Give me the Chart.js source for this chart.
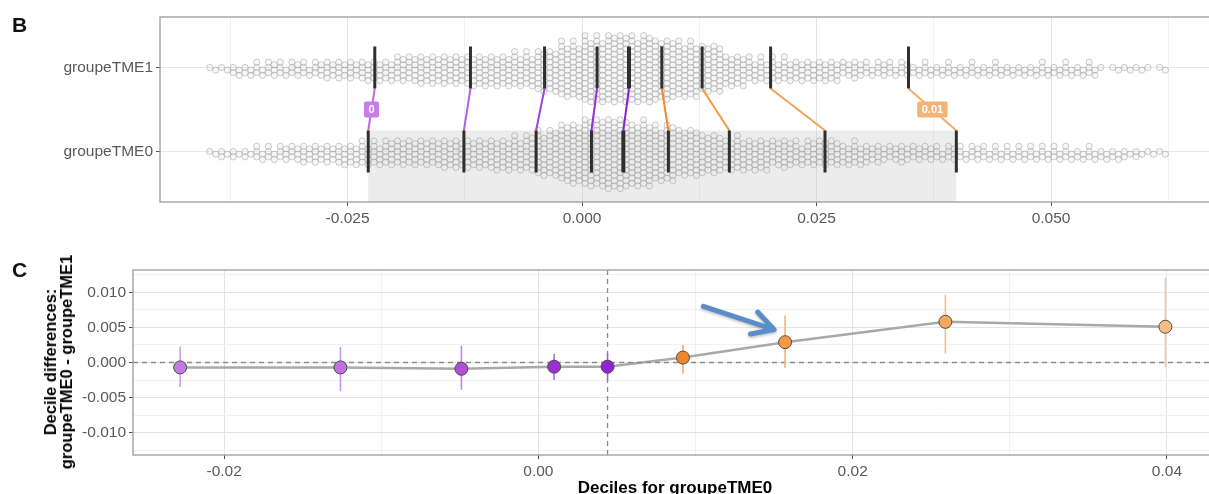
<!DOCTYPE html>
<html>
<head>
<meta charset="utf-8">
<script src="https://cdn.jsdelivr.net/npm/chart.js@4.4.1/dist/chart.umd.min.js"></script>
<style>
  html, body { margin: 0; padding: 0; background: #fff; width: 1209px; height: 494px; overflow: hidden; }
  body { position: relative; font-family: "Liberation Sans", Arial, sans-serif; }
  canvas { position: absolute; left: 0; }
  #chartB { top: 0; }
  #chartC { top: 240px; }
  .tag { position: absolute; font-weight: bold; font-size: 21px; line-height: 21px; color: #111; }
  .title { position: absolute; font-weight: bold; font-size: 16.5px; line-height: 16px; color: #000; white-space: nowrap; text-align: center; }
</style>
</head>
<body>
<canvas id="chartB" width="1220" height="240"></canvas>
<canvas id="chartC" width="1220" height="254"></canvas>
<div class="tag" style="left:12px; top:14px;">B</div>
<div class="tag" style="left:12px; top:259px;">C</div>
<div class="title" style="left:58px; top:362px; transform: translate(-50%, -50%) rotate(-90deg);">Decile differences:<br>groupeTME0 - groupeTME1</div>
<div class="title" style="left:675px; top:479px; transform: translateX(-50%); font-size:17px; line-height:17px;">Deciles for groupeTME0</div>

<script>
/* ---- data ---- */
const groups = ['groupeTME1', 'groupeTME0'];          // top row, bottom row

// deciles 1..9 of each group
const decTME0 = [-0.0228, -0.0126, -0.0049, 0.0010, 0.0044, 0.0092, 0.0157, 0.0259, 0.0399];
const decTME1 = [-0.0221, -0.0119, -0.0040, 0.0016, 0.0050, 0.0085, 0.0128, 0.0201, 0.0348];

// decile differences (groupeTME0 - groupeTME1) with their intervals
const diffs  = [-0.0007, -0.0007, -0.0009, -0.0006, -0.0006, 0.0007, 0.0029, 0.0058, 0.0051];
const ciLow  = [-0.0035, -0.0041, -0.0039, -0.0025, -0.0025, -0.0016, -0.0008, 0.0013, -0.0007];
const ciHigh = [ 0.0023,  0.0022,  0.0024,  0.0012,  0.0013,  0.0025,  0.0067, 0.0097, 0.0121];

// observations per bin of 0.0025, starting at -0.040 (estimated from the swarm)
const binStart = -0.040;
const binWidth = 0.0025;
const countsTME1 = [4, 8, 11, 11, 11, 14, 15, 16, 20, 22, 22, 24, 24, 26, 32, 42, 50, 52, 51, 46,
                    42, 36, 24, 18, 18, 16, 16, 13, 11, 11, 9, 9, 9, 9, 8, 9, 9, 9, 3, 4, 3];
const countsTME0 = [5, 6, 10, 12, 14, 15, 17, 19, 20, 20, 22, 22, 24, 27, 35, 45, 52, 54, 49, 43,
                    36, 30, 25, 24, 21, 19, 20, 17, 14, 13, 12, 11, 11, 10, 10, 10, 10, 9, 8, 6, 4];

// ticks
const bXMajor = [-0.025, 0, 0.025, 0.05];
const bXMinor = [-0.0375, -0.0125, 0.0125, 0.0375, 0.0625];
const cXMajor = [-0.02, 0, 0.02, 0.04];
const cXMinor = [-0.01, 0.01, 0.03];
const cYMajor = [-0.01, -0.005, 0, 0.005, 0.01];
const cYMinor = [-0.0125, -0.0075, -0.0025, 0.0025, 0.0075, 0.0125];

// labelled deciles in panel B, and the arrow annotation in panel C
const labelDeciles = [0, 8];
const arrowFrom = [0.0105, 0.0080];
const arrowTo   = [0.0150, 0.0047];

/* ---- axis limits & styles ---- */
const bXMin = -0.045, bXMax = 0.0675;
const cXMin = -0.0258, cXMax = 0.0429;
const cYMin = -0.0132, cYMax = 0.0132;

const FONT = '"Liberation Sans", Arial, sans-serif';
const TICK_COLOR = '#595959';
const pointFill = ['#c67be2', '#c070e0', '#b050da', '#9a2fd2', '#9025cf', '#f0862a', '#f39a45', '#f5a85e', '#f8bd86'];
const barColor  = ['#d39aee', '#cf92ee', '#c484ea', '#b468e2', '#ac5cde', '#f4a868', '#f5b27a', '#f7bd8c', '#f8c8a0'];
const linkColor = ['#bb6ce6', '#b062e4', '#a044e0', '#922ddc', '#8a1fd8', '#f08a2a', '#f2983f', '#f4a255', '#f5ab66'];
const boxColor  = { 0: '#c77ee8', 8: '#f5b377' };

Chart.defaults.font.family = FONT;

const isIn = (list, v) => list.some(m => Math.abs(m - v) < 1e-9);

/* ---- beeswarm layout from the bin counts ---- */
const SWARM_COLS = 4;
const ROW_GAP = 0.063;   // in category units
function swarm(counts, center) {
  const pts = [];
  const colW = binWidth / SWARM_COLS;
  const rank = [1, 3, 0, 2];
  counts.forEach((n, b) => {
    const rem = n % SWARM_COLS;
    for (let c = 0; c < SWARM_COLS; c++) {
      const k = Math.floor(n / SWARM_COLS) + (rank[c] < rem ? 1 : 0);
      const x = binStart + b * binWidth + (c + 0.5) * colW;
      const shift = c % 2 ? ROW_GAP / 2 : 0;
      for (let j = 0; j < k; j++) {
        const step = Math.ceil(j / 2) * (j % 2 ? 1 : -1);
        pts.push({ x, y: center + step * ROW_GAP + shift });
      }
    }
  });
  return pts;
}

/* ---- shared plugins ---- */
const frame = {
  id: 'frame',
  afterDraw(chart) {
    const { ctx, chartArea: a } = chart;
    ctx.save();
    ctx.strokeStyle = '#a3a3a3';
    ctx.lineWidth = 1.4;
    ctx.strokeRect(a.left, a.top, a.right - a.left, a.bottom - a.top);
    ctx.restore();
  }
};

function tickScale(min, max, major, minor, fmt, size) {
  return {
    type: 'linear', min, max,
    afterBuildTicks: s => { s.ticks = [...minor, ...major].sort((p, q) => p - q).map(v => ({ value: v })); },
    afterFit: size,
    ticks: {
      autoSkip: false, maxRotation: 0, padding: 3, color: TICK_COLOR,
      font: { size: 15.5 },
      callback: v => isIn(major, v) ? fmt(v) : ''
    },
    grid: {
      color: c => (c.tick && isIn(major, c.tick.value)) ? '#e4e4e4' : '#f1f1f1',
      tickColor: c => (c.tick && isIn(major, c.tick.value)) ? '#4d4d4d' : 'rgba(0,0,0,0)',
      tickLength: 4,
      lineWidth: 1
    },
    border: { display: false }
  };
}

const baseOptions = {
  responsive: false,
  animation: false,
  devicePixelRatio: 1,
  events: [],
  plugins: { legend: { display: false }, tooltip: { enabled: false } }
};

/* ---- Panel B ---- */
const shade = {
  id: 'shade',
  beforeDatasetsDraw(chart) {
    const { ctx, scales: { x, y } } = chart;
    const x0 = x.getPixelForValue(decTME0[0]);
    const x1 = x.getPixelForValue(decTME0[8]);
    const y0 = y.getPixelForValue(1.75);
    const y1 = y.getPixelForValue(y.max);
    ctx.save();
    ctx.fillStyle = 'rgba(195,195,195,0.32)';
    ctx.fillRect(x0, y0, x1 - x0, y1 - y0);
    ctx.restore();
  }
};

const labelBoxes = {
  id: 'labelBoxes',
  afterDatasetsDraw(chart) {
    const { ctx, scales: { x, y } } = chart;
    labelDeciles.forEach(i => {
      const px = (x.getPixelForValue(decTME1[i]) + x.getPixelForValue(decTME0[i])) / 2;
      const py = (y.getPixelForValue(1.25) + y.getPixelForValue(1.75)) / 2;
      const txt = String(Math.round(diffs[i] * 100) / 100);
      ctx.save();
      ctx.font = `bold 11px ${FONT}`;
      const w = ctx.measureText(txt).width + 9, h = 16;
      ctx.fillStyle = boxColor[i];
      ctx.beginPath();
      ctx.roundRect(px - w / 2, py - h / 2, w, h, 2);
      ctx.fill();
      ctx.fillStyle = '#fff';
      ctx.textAlign = 'center';
      ctx.textBaseline = 'middle';
      ctx.fillText(txt, px, py + 0.5);
      ctx.restore();
    });
  }
};

const dotStyle = {
  type: 'scatter', pointRadius: 3.1, pointBorderWidth: 0.8,
  borderColor: 'rgba(120,120,120,0.45)', backgroundColor: 'rgba(230,230,230,0.3)', order: 10
};

const bDatasets = [
  { label: groups[0], data: swarm(countsTME1, 1), ...dotStyle },
  { label: groups[1], data: swarm(countsTME0, 2), ...dotStyle }
];
decTME1.forEach((d, i) => {
  bDatasets.push({
    data: [{ x: d, y: 1.25 }, { x: decTME0[i], y: 1.75 }],
    showLine: true, pointRadius: 0, borderColor: linkColor[i], borderWidth: 2, order: 5
  });
});
[decTME1, decTME0].forEach((dec, g) => {
  dec.forEach((d, i) => {
    bDatasets.push({
      data: [{ x: d, y: g + 0.75 }, { x: d, y: g + 1.25 }],
      showLine: true, pointRadius: 0, borderColor: '#2f2f2f',
      borderWidth: i === 4 ? 4 : 3, order: 1
    });
  });
});

new Chart(document.getElementById('chartB'), {
  type: 'scatter',
  data: { datasets: bDatasets },
  options: {
    ...baseOptions,
    layout: { padding: { top: 17, right: 3, left: 0, bottom: 0 } },
    scales: {
      x: tickScale(bXMin, bXMax, bXMajor, bXMinor, v => v.toFixed(3), s => { s.height = 38; }),
      y: {
        type: 'linear', min: 0.4, max: 2.6, reverse: true,
        afterBuildTicks: s => { s.ticks = groups.map((_, i) => ({ value: i + 1 })); },
        afterFit: s => { s.width = 160; },
        ticks: { color: TICK_COLOR, font: { size: 15.5 }, padding: 3, callback: v => groups[v - 1] },
        grid: { color: '#e8e8e8', tickColor: '#4d4d4d', tickLength: 4 },
        border: { display: false }
      }
    }
  },
  plugins: [shade, labelBoxes, frame]
});

/* ---- Panel C ---- */
const arrow = {
  id: 'arrow',
  afterDraw(chart) {
    const { ctx, scales: { x, y } } = chart;
    const x1 = x.getPixelForValue(arrowFrom[0]), y1 = y.getPixelForValue(arrowFrom[1]);
    const x2 = x.getPixelForValue(arrowTo[0]),   y2 = y.getPixelForValue(arrowTo[1]);
    const a = Math.atan2(y2 - y1, x2 - x1);
    const len = 24, spread = 0.5;
    ctx.save();
    ctx.strokeStyle = '#5b8ec9';
    ctx.lineWidth = 5;
    ctx.lineCap = 'round';
    ctx.lineJoin = 'round';
    ctx.shadowColor = 'rgba(0,0,0,0.25)';
    ctx.shadowBlur = 3;
    ctx.shadowOffsetY = 1.5;
    ctx.beginPath();
    ctx.moveTo(x1, y1);
    ctx.lineTo(x2, y2);
    ctx.moveTo(x2 - len * Math.cos(a - spread), y2 - len * Math.sin(a - spread));
    ctx.lineTo(x2, y2);
    ctx.lineTo(x2 - len * Math.cos(a + spread), y2 - len * Math.sin(a + spread));
    ctx.stroke();
    ctx.restore();
  }
};

const diffPoints = decTME0.map((d, i) => ({ x: d, y: diffs[i] }));
const dashed = { showLine: true, pointRadius: 0, borderColor: '#8a8a8a', borderWidth: 1.3, borderDash: [5, 4], order: 2 };

const cDatasets = [
  { data: diffPoints, pointRadius: 6.5, pointBorderWidth: 1, borderColor: '#4d4d4d',
    backgroundColor: pointFill, pointBackgroundColor: pointFill, order: 0 },
  { data: diffPoints, showLine: true, pointRadius: 0, borderColor: '#a9a9a9', borderWidth: 2.5, order: 3 },
  { data: [{ x: cXMin, y: 0 }, { x: cXMax, y: 0 }], ...dashed },
  { data: [{ x: decTME0[4], y: cYMin }, { x: decTME0[4], y: cYMax }], ...dashed }
];
decTME0.forEach((d, i) => {
  cDatasets.push({
    data: [{ x: d, y: ciLow[i] }, { x: d, y: ciHigh[i] }],
    showLine: true, pointRadius: 0, borderColor: barColor[i], borderWidth: 1.6, order: 1
  });
});

new Chart(document.getElementById('chartC'), {
  type: 'scatter',
  data: { datasets: cDatasets },
  options: {
    ...baseOptions,
    layout: { padding: { top: 30, right: 3, left: 0, bottom: 0 } },
    scales: {
      x: tickScale(cXMin, cXMax, cXMajor, cXMinor, v => v.toFixed(2), s => { s.height = 39; }),
      y: tickScale(cYMin, cYMax, cYMajor, cYMinor, v => v.toFixed(3), s => { s.width = 133; })
    }
  },
  plugins: [frame, arrow]
});
</script>
</body>
</html>
